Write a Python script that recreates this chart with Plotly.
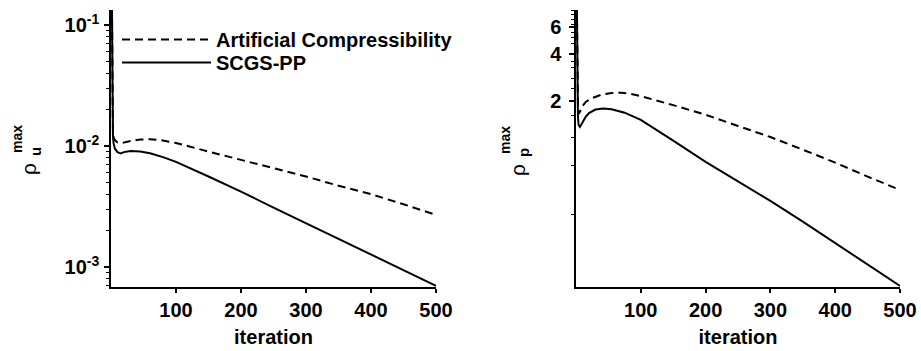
import plotly.graph_objects as go
import numpy as np

# ---- data ----
iter_u = [1, 2, 3, 4, 6, 10, 15, 20, 30, 45, 60, 75, 100, 150, 200, 250, 300, 350, 400, 450, 500]
ac_u = [0.3, 0.04, 0.013, 0.0118, 0.0112, 0.0107, 0.0106, 0.0107, 0.0110, 0.0113, 0.0114,
        0.0112, 0.0106, 0.0090, 0.0077, 0.0066, 0.0056, 0.0047, 0.0040, 0.0033, 0.0027]
iter_us = [1, 2, 3, 4, 6, 10, 15, 20, 30, 45, 60, 80, 100, 150, 200, 250, 300, 350, 400, 450, 500]
scgs_u = [0.3, 0.03, 0.012, 0.0105, 0.0095, 0.0089, 0.0087, 0.0089, 0.0091, 0.0090, 0.0087,
          0.0081, 0.0074, 0.0056, 0.0042, 0.0031, 0.0023, 0.0017, 0.00126, 0.00094, 0.0007]

iter_pa = [1, 2, 3, 4, 6, 9, 15, 25, 40, 55, 70, 85, 100, 150, 200, 250, 300, 350, 400, 450, 500]
ac_p = [12, 4, 1.9, 1.65, 1.7, 1.83, 1.97, 2.09, 2.2, 2.25, 2.26, 2.22, 2.15, 1.88, 1.63,
        1.38, 1.17, 0.97, 0.80, 0.65, 0.533]
iter_ps = [1, 2, 3, 4, 6, 10, 15, 20, 30, 42, 55, 75, 100, 150, 200, 250, 300, 350, 400, 450, 500]
scgs_p = [12, 3, 1.6, 1.4, 1.36, 1.45, 1.58, 1.67, 1.76, 1.79, 1.77, 1.68, 1.51, 1.11, 0.81,
          0.605, 0.453, 0.333, 0.243, 0.177, 0.128]

series_names = ["Artificial Compressibility", "SCGS-PP"]
x_ticks = [100, 200, 300, 400, 500]
x_ticklabels = ["100", "200", "300", "400", "500"]
yu_ticks = [1e-3, 1e-2, 1e-1]
yu_ticklabels = ["10<sup>-3</sup>", "10<sup>-2</sup>", "10<sup>-1</sup>"]
yu_minor = [m * 10.0 ** e for e in (-4, -3, -2) for m in range(2, 10)]
yp_ticks = [2, 4, 6]
yp_ticklabels = ["2", "4", "6"]
yp_minor = [0.37, 0.77, 1.17, 1.6, 2.4, 2.8, 3.3, 3.6, 4.7, 5.1, 5.5, 6.2, 6.7, 7.2, 7.7]

W, H = 921, 351
L, R, T, B = 111, 900, 10, 287   # plot-area edges in pixels
PW, PH = R - L, B - T
FONT = "Liberation Sans, Arial, Helvetica, sans-serif"
bold20 = dict(family=FONT, size=20, color="black", weight="bold")


def px_x(p):
    return (p - L) / PW


def px_y(p):
    return (B - p) / PH


fig = go.Figure()
dash = "8px,5px"
fig.add_trace(go.Scatter(x=iter_u, y=ac_u, mode="lines", name=series_names[0], legend="legend",
                         line=dict(color="black", width=2, dash=dash), xaxis="x", yaxis="y"))
fig.add_trace(go.Scatter(x=iter_us, y=scgs_u, mode="lines", name=series_names[1], legend="legend2",
                         line=dict(color="black", width=2), xaxis="x", yaxis="y"))
fig.add_trace(go.Scatter(x=iter_pa, y=ac_p, mode="lines", showlegend=False,
                         line=dict(color="black", width=2, dash=dash), xaxis="x2", yaxis="y2"))
fig.add_trace(go.Scatter(x=iter_ps, y=scgs_p, mode="lines", showlegend=False,
                         line=dict(color="black", width=2), xaxis="x2", yaxis="y2"))

common_x = dict(range=[0, 500], showline=True, linecolor="black", linewidth=1.5,
                ticks="outside", ticklen=4, tickwidth=1.5, tickcolor="black",
                tickvals=x_ticks, ticktext=x_ticklabels, tickfont=bold20,
                showgrid=False, zeroline=False, automargin=False,
                title=dict(text="iteration", font=bold20, standoff=10))
common_y = dict(type="log", domain=[0, 1], showline=True, linecolor="black", linewidth=1.5,
                ticks="outside", ticklen=5, tickwidth=1.5, tickcolor="black",
                tickfont=bold20, showgrid=False, zeroline=False, automargin=False)
leg = dict(xanchor="left", yanchor="top", font=bold20, bgcolor="rgba(0,0,0,0)",
           itemwidth=89, borderwidth=0)
fig.update_layout(
    width=W, height=H, margin=dict(l=L, r=W - R, t=T, b=H - B, pad=0),
    paper_bgcolor="white", plot_bgcolor="white",
    xaxis=dict(domain=[0, px_x(436)], anchor="y", **common_x),
    xaxis2=dict(domain=[px_x(576), 1], anchor="y2", **common_x),
    yaxis=dict(anchor="x", range=[np.log10(6.84e-4), np.log10(0.133)],
               tickvals=yu_ticks, ticktext=yu_ticklabels, ticklabelstandoff=1,
               minor=dict(tickvals=yu_minor, ticks="outside", ticklen=3, tickwidth=1, tickcolor="black"),
               **common_y),
    yaxis2=dict(anchor="x2", range=[np.log10(0.126), np.log10(7.73)],
                tickvals=yp_ticks, ticktext=yp_ticklabels, ticklabelstandoff=4,
                minor=dict(tickvals=yp_minor, ticks="outside", ticklen=3, tickwidth=1, tickcolor="black"),
                **common_y),
    legend=dict(x=px_x(117), y=px_y(20), **leg),
    legend2=dict(x=px_x(117), y=px_y(43), **leg),
    showlegend=True,
)


def ylabel(xc, yc, sub):
    fig.add_annotation(text="ρ", x=px_x(xc), y=px_y(yc), xref="paper", yref="paper",
                       textangle=-90, showarrow=False, xanchor="center", yanchor="middle",
                       font=dict(family=FONT, size=21, color="black"))
    fig.add_annotation(text="max", x=px_x(xc - 12), y=px_y(yc - 30), xref="paper", yref="paper",
                       textangle=-90, showarrow=False, xanchor="center", yanchor="middle",
                       font=dict(family=FONT, size=14, color="black", weight="bold"))
    fig.add_annotation(text=sub, x=px_x(xc + 6), y=px_y(yc - 17), xref="paper", yref="paper",
                       textangle=-90, showarrow=False, xanchor="center", yanchor="middle",
                       font=dict(family=FONT, size=15, color="black", weight="bold"))


ylabel(29, 169, "u")
ylabel(517, 170, "p")

fig.write_html("out.html")
